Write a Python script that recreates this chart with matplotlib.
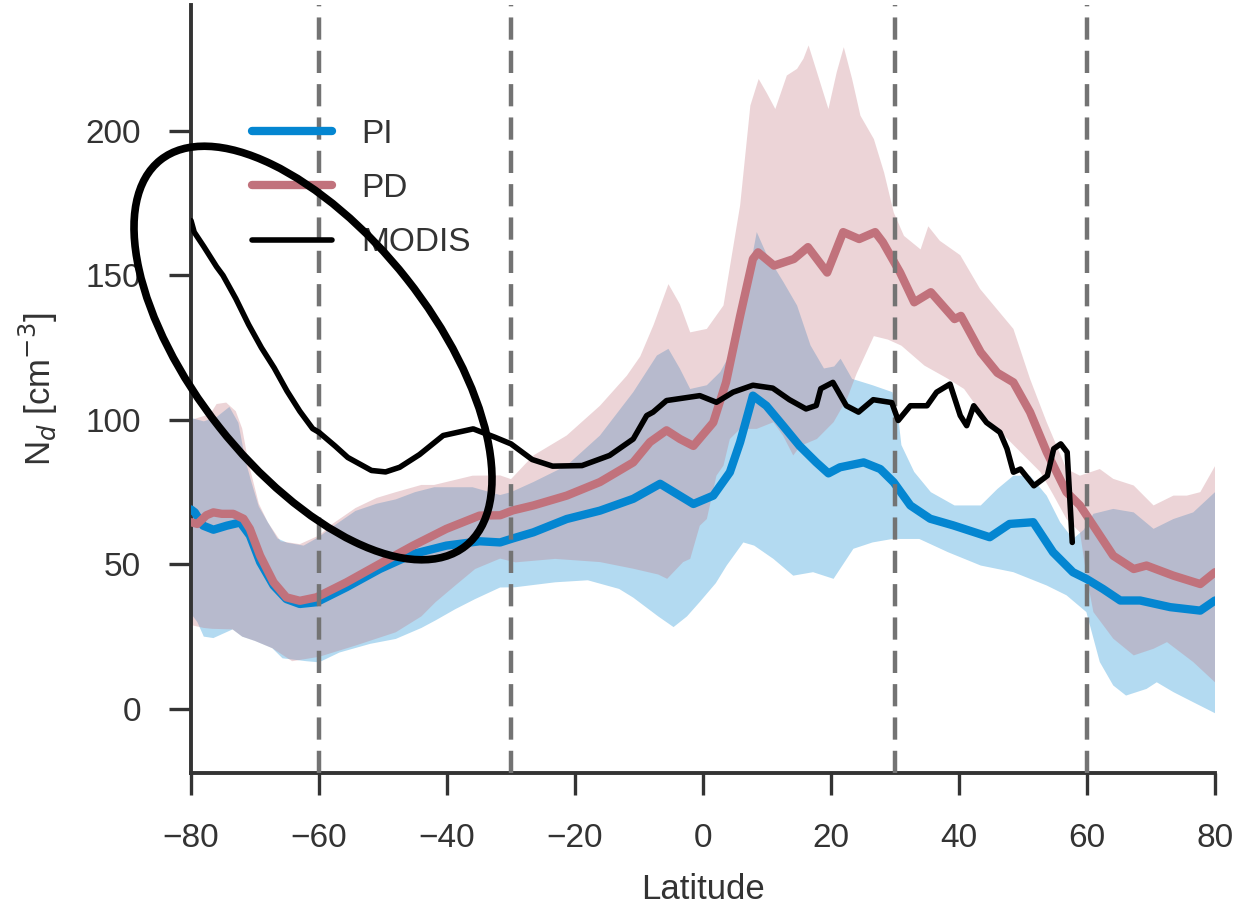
import numpy as np
import matplotlib
matplotlib.use("Agg")
import matplotlib.pyplot as plt
from matplotlib.patches import Ellipse
from matplotlib.transforms import IdentityTransform

# ---------------- data ----------------
# Pre-industrial (PI) zonal mean droplet number
lat_pi = [-80, -79.4, -78.1, -76.5, -74.4, -72.3, -70.8, -69.2, -67.1, -65.1, -63, -60.4,
          -55.7, -50.5, -45.3, -40.1, -34.9, -31.7, -29.7, -26.5, -21.3, -16.1, -10.9,
          -6.7, -4.1, -1.5, 1.6, 4.2, 5.8, 7.8, 9.9, 12.5, 15.1, 17.7, 19.6, 21.4, 25.1,
          27.7, 29.8, 32.4, 35.5, 39.1, 42.3, 44.8, 47.9, 51.6, 54.7, 57.8, 59.9, 62.5,
          65.2, 68.3, 73, 77.7, 80]
nd_pi = [69, 68, 63.4, 62, 63.4, 64.5, 60, 50.8, 42.7, 38, 36.3, 36.9,
         42.1, 48.4, 53.6, 56.5, 58, 57.6, 59, 61.1, 65.7, 68.6, 72.7,
         77.9, 74.4, 70.9, 73.8, 81.9, 92.3, 108.4, 104.9, 98, 91, 85.3, 81.5, 83.6, 85.3,
         83, 78.4, 70.4, 65.8, 63.5, 61.2, 59.4, 64, 64.6, 54.2, 47.3, 45, 41.5,
         37.5, 37.5, 35.2, 34, 37.5]

# PI spread (upper / lower envelope)
lat_pi_hi = [-80, -78, -76, -74, -72.6, -71.5, -70.5, -69.4, -68, -66.5, -65, -62.4, -60,
             -57.9, -54.3, -51, -48, -45, -42, -36, -31.7, -30, -26.5, -21.3, -16.1, -10.9,
             -7.2, -5.4, -3.6, -2, 0.6, 2.7, 4.7, 5.8, 7.3, 8.4, 10, 12.6, 14.7, 16.8, 18.9,
             20.5, 21.5, 23.3, 26.5, 29.6, 30.5, 31, 33, 35.6, 39.3, 43.4, 46, 48.5, 51.1,
             53.7, 55.8, 57.8, 59.5, 61, 64.1, 67.3, 70.4, 73.5, 76.6, 80]
nd_pi_hi = [100.7, 99.5, 101, 104.5, 99, 86, 78, 70, 64.6, 59, 57.5, 56.5, 59.5,
            63, 68.5, 71, 72.5, 75, 76.7, 76.7, 74, 75, 78.5, 84.2, 94.6, 109.6,
            122.3, 124.6, 117.7, 110.7, 112, 116.6, 124.6, 139.6, 152, 165, 157, 147.6, 139.6, 125.8, 117.8,
            118.5, 121.2, 114.2, 112, 109.6, 101, 91.3, 82, 75, 70.4, 70.4, 76.1, 80.7, 80.7,
            73.8, 64.6, 58.8, 62, 67.5, 69.2, 68, 62.3, 65.7, 68, 75]
lat_pi_lo = [-80, -79, -78, -76.5, -75, -73.5, -72, -70, -67.3, -65.7, -62, -60, -56.8, -52,
             -48, -44, -41.8, -38.7, -35.6, -31.7, -29.3, -23.1, -18, -13.1, -10.9, -7, -4.6,
             -2.5, -0.5, 2, 3.7, 6.3, 8, 11, 14.1, 17.2, 20.4, 23.5, 26.5, 29.6, 33.8, 38.3,
             43.4, 48.5, 53.7, 56.8, 59.9, 62, 64.1, 66.1, 69.3, 70.9, 73.5, 76.6, 80]
nd_pi_lo = [33, 30, 25, 24.5, 26, 27.5, 25, 23.5, 21, 17.5, 16.5, 16.1, 19.5, 22.5,
            24.2, 28, 30.6, 34.5, 38, 42, 42.1, 43.8, 44.5, 41.5, 38.5, 32, 28.3,
            32, 37, 43.5, 49.6, 57.6, 56.5, 51.9, 46.1, 47.3, 45, 55.4, 57.6, 58.8, 58.8, 54.2,
            49.6, 47.3, 42.7, 39.3, 33.5, 16.2, 8.1, 4.6, 6.9, 9.2, 5.8, 2.3, -1.5]

# Present-day (PD) zonal mean droplet number
lat_pd = [-80, -79, -77.6, -76.5, -75.2, -73.4, -71.8, -70.8, -69.2, -67.1, -65.1, -63, -60.4,
          -55.7, -50.5, -45.3, -40.1, -34.9, -31.7, -29.7, -26.5, -21.3, -16.1, -10.9, -8.3,
          -5.7, -3.6, -1.5, 1.6, 3.6, 5.8, 7.8, 8.6, 11.1, 14.2, 16.4, 19.4, 21.9, 24.4,
          26.9, 28.1, 30.8, 33, 35.6, 39.3, 40.3, 43.4, 46, 48.5, 51.1, 53.7, 56.8, 58.9,
          61, 64.1, 67.3, 69.3, 73.5, 77.7, 80]
nd_pd = [64.6, 64, 67, 68, 67.5, 67.5, 65.8, 62.3, 53, 43.8, 38.6, 37.4, 38.6,
         43.8, 50.2, 56.5, 62.3, 66.9, 67, 68.7, 70.4, 73.8, 78.5, 85.3, 92.3,
         96.4, 93.4, 91, 99.1, 113, 136, 155.7, 158, 153.4, 155.7, 159.8, 151, 165, 162.6,
         165, 161.5, 151, 140.7, 144.2, 134.9, 136, 123.4, 116.3, 113, 102.7, 88.9, 75, 70.4,
         63.4, 53, 48.4, 49.6, 46.1, 43.2, 47.3]

# PD spread (upper / lower envelope)
lat_pd_hi = [-80, -77, -76, -74.5, -73, -72, -71, -69.4, -68, -66, -63, -60, -57.9, -54.3,
             -51, -48, -44, -42, -36, -31.7, -30, -26.5, -21.3, -16.1, -11.9, -9.8, -7.7,
             -5.4, -3.6, -2, 0.6, 3.2, 5.8, 7.4, 8.7, 10, 11.3, 13.1, 14.7, 15.7, 16.5, 17.8,
             19.6, 20.9, 22, 23.3, 24.6, 26.7, 28.3, 29.8, 31.4, 34, 35.2, 37, 40.2, 43.3,
             48.5, 51.1, 53.7, 56.8, 58.9, 62, 64.1, 67.3, 70.4, 73.5, 75.6, 77.7, 80]
nd_pd_hi = [100, 102, 105.5, 106, 103, 97, 85, 71, 64.6, 58, 57, 60, 64, 69.5,
            73, 75, 77.5, 77.5, 80.7, 80.8, 79.5, 87.7, 94.6, 104.9, 115.3, 122, 133,
            147, 140, 130.3, 131.5, 139.6, 174.2, 208.8, 218, 213, 207.6, 219.2, 221.5, 225, 229.6, 220.4,
            207.6, 220.4, 229, 218, 205.3, 197.2, 185.6, 171.8, 163.7, 159, 167, 162, 157, 145.3,
            131.5, 114.2, 99.2, 83, 80.7, 83, 79.6, 77.3, 70.4, 73.8, 73.8, 75, 84]
lat_pd_lo = [-80, -78, -76.7, -73.5, -72, -70, -67.3, -64.2, -60, -54.3, -48, -44, -41.8,
             -38.7, -35.6, -31.7, -29.3, -23.1, -16.1, -10.9, -7, -5.6, -3.1, -2, -0.5, 0.6,
             2.1, 3.2, 4.2, 5.8, 8.4, 11, 12.5, 14.1, 15.2, 17.8, 20.4, 22.5, 24, 26.7, 28.9,
             31, 34.6, 38.3, 40.8, 43.4, 46.5, 49.6, 52.7, 54.8, 56.8, 58.9, 60, 61, 64.1,
             67.3, 70.4, 72.5, 76.6, 80]
nd_pd_lo = [29, 28, 27.7, 27.5, 25, 23.5, 21, 16.5, 18, 21.9, 26.5, 32, 36.9,
            42.7, 48.4, 52, 50.7, 51.9, 50.8, 48.5, 46.5, 45, 50.8, 51.9, 63.4, 65.7,
            80.7, 84.2, 93.4, 96.9, 96.9, 99.2, 94.6, 87.7, 91, 93.4, 99.2, 107.3, 116, 129, 127.8,
            125.7, 118.8, 114.2, 110.7, 102.7, 95.8, 88.9, 82, 73.8, 65.7, 61.1, 45, 33.5, 24.3,
            18.5, 20.8, 23.1, 16.2, 9.2]

# MODIS retrieval
lat_modis = [-80, -79.5, -78, -76, -75, -73, -71, -69, -67, -65, -63, -61, -60, -57.5, -55.5,
             -51.8, -49.6, -47.4, -44.3, -40.6, -35.9, -32.5, -30, -26.7, -23.5, -18.9,
             -14.6, -10.9, -8.8, -7.8, -5.7, -0.5, 2.1, 4.7, 7.8, 10.9, 13.5, 16.1, 17.7,
             18.4, 20.3, 22.4, 24.3, 26.6, 29.5, 30.5, 32.4, 35, 36.5, 38.6, 40.2, 41.2,
             42.3, 44.3, 46.4, 47.5, 48.5, 49.6, 51.7, 53.8, 54.8, 55.9, 56.9, 57.7]
nd_modis = [169, 165, 160, 153, 150, 142, 133, 125, 118, 110, 103, 97, 95.7, 91, 87,
            82.5, 82, 83.6, 88, 94.6, 96.9, 94, 91.7, 86.3, 84, 84.2,
            87.7, 93.4, 101.5, 102.7, 106.7, 108.4, 106.1, 109.6, 112, 111, 107, 103.8, 105,
            110.8, 113, 104.9, 102.7, 107, 106, 99.8, 104.9, 104.9, 109.6, 112.4, 101.5, 98,
            104.9, 99.1, 95.7, 90, 81.9, 83, 77.2, 80.7, 90, 91.7, 88.8, 57.6]

region_bounds = [-60, -30, 30, 60]
xticks = [-80, -60, -40, -20, 0, 20, 40, 60, 80]
yticks = [0, 50, 100, 150, 200]

# ---------------- style ----------------
col_pi = "#0486d1"
col_pd = "#c1727c"
ink = "#333333"
plt.rcParams["font.family"] = ["Liberation Sans", "DejaVu Sans"]
plt.rcParams["lines.solid_capstyle"] = "round"

fig = plt.figure(figsize=(12.34, 9.09), dpi=100)
ax = fig.add_axes([191 / 1234, 136 / 909, 1024 / 1234, 768 / 909])


def band(ax, lat_hi, hi, lat_lo, lo, color, z):
    xs = np.r_[lat_hi, lat_lo[::-1]]
    ys = np.r_[hi, lo[::-1]]
    ax.fill(xs, ys, color=color, alpha=0.3, lw=0, zorder=z)


band(ax, np.array(lat_pi_hi), np.array(nd_pi_hi), np.array(lat_pi_lo), np.array(nd_pi_lo), col_pi, 1)
band(ax, np.array(lat_pd_hi), np.array(nd_pd_hi), np.array(lat_pd_lo), np.array(nd_pd_lo), col_pd, 2)

ax.plot(lat_pi, nd_pi, color=col_pi, lw=6, zorder=3, label="PI")
ax.plot(lat_pd, nd_pd, color=col_pd, lw=6, zorder=4, label="PD")
for b in region_bounds:
    ax.axvline(b, color="0.45", lw=3.2, dashes=(5, 2.5), zorder=5)
ax.plot(lat_modis, nd_modis, color="black", lw=4, zorder=6, label="MODIS")

ax.set_xlim(-80, 80)
ax.set_ylim(-22.2, 243.6)
ax.set_xticks(xticks)
ax.set_yticks(yticks)
ax.set_xticklabels(["\u221280", "\u221260", "\u221240", "\u221220", "0", "20", "40", "60", "80"])

for s in ["top", "right"]:
    ax.spines[s].set_visible(False)
for s in ["left", "bottom"]:
    ax.spines[s].set_linewidth(2.8)
    ax.spines[s].set_color(ink)
ax.tick_params(axis="both", direction="out", length=16, width=2.4, color=ink,
               labelsize=24, labelcolor=ink, pad=20)

ax.set_xlabel("Latitude", fontsize=25, color=ink, labelpad=14)
ax.set_ylabel(r"N$_d$ [cm$^{-3}$]", fontsize=25, color=ink, labelpad=18)

leg = ax.legend(loc="upper left", bbox_to_anchor=(0.06, 0.852), frameon=False,
                fontsize=24, handlelength=2.4, handletextpad=0.85, labelspacing=0.7,
                borderpad=0, borderaxespad=0)
for t in leg.get_texts():
    t.set_color(ink)

# highlight ring around the southern high-latitude MODIS values
ring = Ellipse((313, 909 - 353), 492, 239, angle=-51.7, transform=IdentityTransform(),
               fill=False, edgecolor="black", lw=5.5, zorder=10)
fig.add_artist(ring)

fig.savefig("out.png", dpi=100)
